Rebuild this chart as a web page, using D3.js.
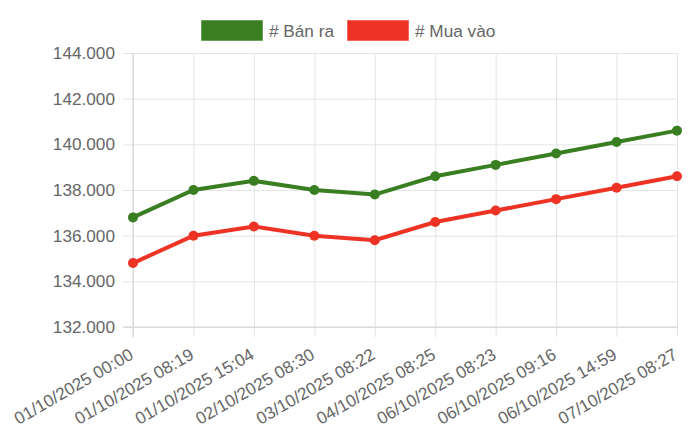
<html>
  <head>
    <meta charset="utf-8">
    <title>Bán ra / Mua vào</title>
    <script src="https://cdnjs.cloudflare.com/ajax/libs/d3/7.8.5/d3.min.js"></script>
    <style>
      body { margin: 0; background: #fff; }
      text { font-family: "Liberation Sans", Arial, Helvetica, sans-serif; fill: #666; }
    </style>
  </head>
  <body>
    <script>
      // data
      var labels = ["01/10/2025 00:00", "01/10/2025 08:19", "01/10/2025 15:04", "02/10/2025 08:30",
        "03/10/2025 08:22", "04/10/2025 08:25", "06/10/2025 08:23", "06/10/2025 09:16",
        "06/10/2025 14:59", "07/10/2025 08:27"];
      var banRa = [136800, 138000, 138400, 138000, 137800, 138600, 139100, 139600, 140100, 140600];
      var muaVao = [134800, 136000, 136400, 136000, 135800, 136600, 137100, 137600, 138100, 138600];
      var yTicks = [132000, 134000, 136000, 138000, 140000, 142000, 144000];
      var seriesNames = ["# Bán ra", "# Mua vào"];

      var width = 700, height = 436;
      var mLeft = 133, mRight = 677, mTop = 53, mBottom = 327;
      var green = "#3a7e22", red = "#ee3224";
      var fontSize = 17.2;

      var svg = d3.select("body")
        .append("svg")
        .attr("width", width)
        .attr("height", height);

      var xScale = d3.scalePoint()
        .domain(labels)
        .range([mLeft, mRight]);

      var yScale = d3.scaleLinear()
        .domain([132000, 144000])
        .range([mBottom, mTop]);

      var fmt = function(v) { return d3.format(",.0f")(v).replace(/,/g, "."); };

      // horizontal grid + y axis
      var yAxis = svg.append("g")
        .attr("transform", "translate(" + mLeft + ",0)")
        .call(d3.axisLeft(yScale)
          .tickValues(yTicks)
          .tickPadding(18)
          .tickFormat(fmt));
      yAxis.select(".domain").remove();
      yAxis.selectAll(".tick line")
        .attr("x1", -10)
        .attr("x2", mRight - mLeft)
        .attr("stroke", "#e4e4e4")
        .attr("stroke-width", 1);
      yAxis.selectAll(".tick text")
        .attr("x", -18)
        .style("font-size", fontSize + "px")
        .attr("fill", "#666");

      // vertical grid + x axis
      var xAxis = svg.append("g")
        .attr("transform", "translate(0," + mBottom + ")")
        .call(d3.axisBottom(xScale).tickSize(0));
      xAxis.select(".domain").remove();
      xAxis.selectAll(".tick line")
        .attr("y1", -(mBottom - mTop))
        .attr("y2", 10)
        .attr("stroke", "#e4e4e4")
        .attr("stroke-width", 1);
      xAxis.selectAll(".tick text")
        .style("font-size", fontSize + "px")
        .attr("fill", "#666")
        .attr("text-anchor", "end")
        .attr("dy", null)
        .attr("y", null)
        .attr("transform", "translate(1,31) rotate(-30)");

      // axis lines
      svg.append("line")
        .attr("x1", mLeft).attr("x2", mLeft)
        .attr("y1", mTop).attr("y2", mBottom + 10)
        .attr("stroke", "#d4d4d4");
      svg.append("line")
        .attr("x1", mLeft - 10).attr("x2", mRight)
        .attr("y1", mBottom).attr("y2", mBottom)
        .attr("stroke", "#d4d4d4");

      var series = [
        { name: seriesNames[0], values: banRa, color: green },
        { name: seriesNames[1], values: muaVao, color: red }
      ];

      var line = d3.line()
        .x(function(d, i) { return xScale(labels[i]); })
        .y(function(d) { return yScale(d); });

      series.forEach(function(s) {
        svg.append("path")
          .datum(s.values)
          .attr("d", line)
          .attr("fill", "none")
          .attr("stroke", s.color)
          .attr("stroke-width", 4);

        svg.selectAll(null)
          .data(s.values)
          .enter()
          .append("circle")
          .attr("cx", function(d, i) { return xScale(labels[i]); })
          .attr("cy", function(d) { return yScale(d); })
          .attr("r", 5)
          .attr("fill", s.color);
      });

      // legend
      var legendX = [201, 347];
      series.forEach(function(s, i) {
        svg.append("rect")
          .attr("x", legendX[i])
          .attr("y", 20)
          .attr("width", 62)
          .attr("height", 21)
          .attr("fill", s.color)
          .attr("stroke", "rgba(255,255,255,0.5)");
        svg.append("text")
          .attr("x", legendX[i] + 68)
          .attr("y", 37)
          .style("font-size", fontSize + "px")
          .text(s.name);
      });
    </script>
  </body>
</html>
